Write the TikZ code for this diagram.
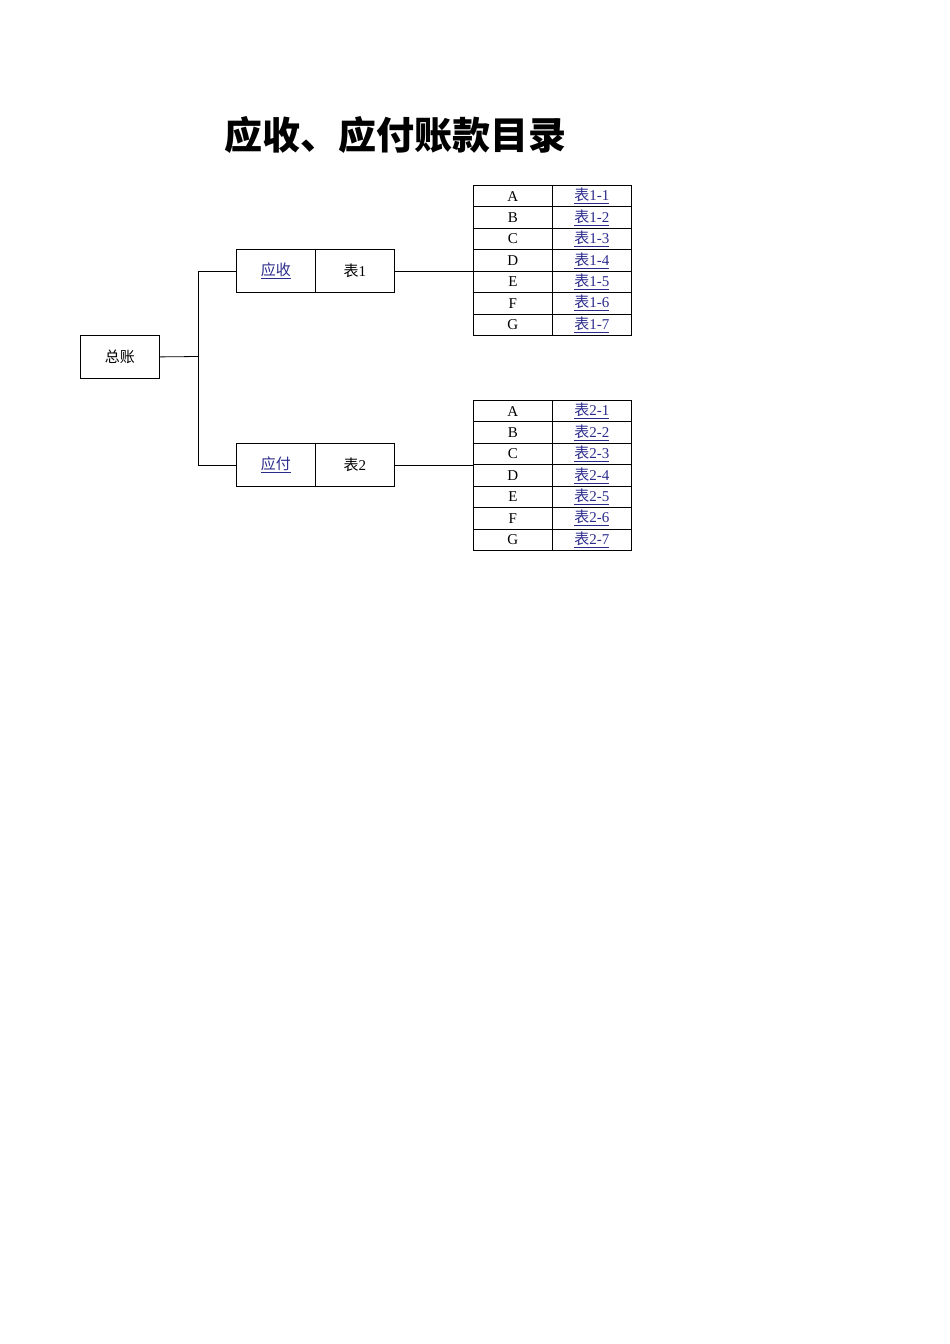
\documentclass[tikz,border=0pt]{standalone}
\usepackage{fontspec}
\setmainfont{Noto Sans CJK SC}
\newfontfamily\latinf{Liberation Serif}
\begin{document}
\begin{tikzpicture}[x=1pt,y=-1pt,
  cell/.style={draw,line width=0.8pt,minimum width=79pt,minimum height=43pt,inner sep=0pt,font=\fontsize{15}{15}\selectfont},
  tcell/.style={draw,line width=0.8pt,minimum width=79pt,minimum height=21.43pt,inner sep=0pt,font=\fontsize{15}{15}\selectfont},
  conn/.style={line width=0.8pt}]
\definecolor{lnk}{HTML}{2B2B8C}
\useasboundingbox (0,0) rectangle (950,1344);
\node[font=\bfseries\fontsize{38}{38}\selectfont] (title) at (395,135) {应收、应付账款目录};
\node[cell,anchor=north west] (zz) at (80,335) {总账};
\node[cell,anchor=north west] (ys) at (236,249) {\textcolor{lnk}{\underline{应收}}};
\node[cell,anchor=north west] (b1) at (315,249) {表\latinf 1};
\node[cell,anchor=north west] (yf) at (236,443) {\textcolor{lnk}{\underline{应付}}};
\node[cell,anchor=north west] (b2) at (315,443) {表\latinf 2};
\foreach \t/\y in {1/185,2/400}{
  \foreach \l [count=\i] in {A,B,C,D,E,F,G}{
    \node[tcell,anchor=north west] (k\t\i) at (473,{\y+(\i-1)*21.43}) {\latinf\l};
    \node[tcell,anchor=north west] (v\t\i) at (552,{\y+(\i-1)*21.43}) {\textcolor{lnk}{\underline{表{\latinf\t-\i}}}};
  }
}
\coordinate (j) at (198,356.5);
\draw[conn] (zz.east) -- (j);
\draw[conn] (ys.west) -- ++(-38,0) |- (yf.west);
\draw[conn] (b1.east) -- (b1.east -| k14.west);
\draw[conn] (b2.east) -- (b2.east -| k24.west);
\end{tikzpicture}
\end{document}
